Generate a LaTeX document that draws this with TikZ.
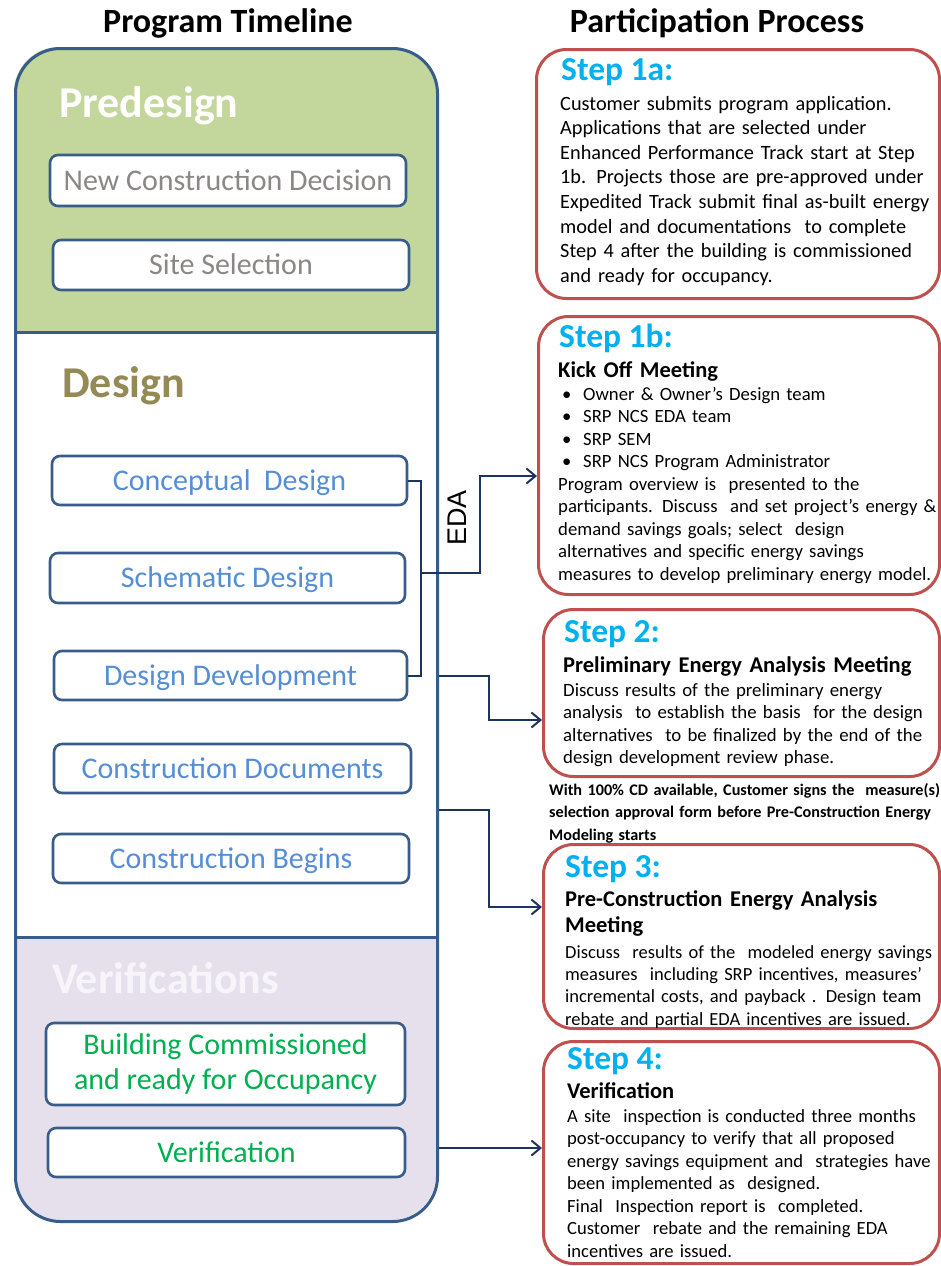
\documentclass[tikz,border=0pt]{standalone}
\usepackage{fontspec}
\setmainfont{Carlito}
\newfontfamily\edafont{Liberation Sans}
\usetikzlibrary{arrows.meta}
\newcommand{\myfs}[2]{\fontsize{#1}{#2}\selectfont}
\definecolor{navy}{RGB}{56,93,138}
\definecolor{arrowc}{RGB}{28,52,96}
\definecolor{pregreen}{RGB}{195,214,155}
\definecolor{lav}{RGB}{229,224,236}
\definecolor{desgold}{RGB}{148,138,84}
\definecolor{predtext}{RGB}{140,134,134}
\definecolor{desblue}{RGB}{85,142,213}
\definecolor{vergreen}{RGB}{0,176,80}
\definecolor{stepred}{RGB}{192,80,77}
\definecolor{stepblue}{RGB}{0,176,240}
\definecolor{verwhite}{RGB}{247,245,250}
\tikzset{
  tbox/.style={draw=navy, line width=2.6pt, rounded corners=8pt, fill=white, inner sep=0pt,
    font=\myfs{30}{35}, text height=22pt, text depth=2.7pt, align=center},
  stepbox/.style={draw=stepred, line width=3pt, rounded corners=30pt, inner sep=0pt, anchor=north west},
  head/.style={anchor=base west, inner sep=0pt, font=\bfseries\myfs{33.5}{33.5}, text=stepblue},
  subhead/.style={anchor=base west, inner sep=0pt, font=\bfseries\myfs{22.5}{26}, text width=520pt, align=left},
  txt/.style={anchor=base west, inner sep=0pt, text width=520pt, align=left,
    execute at begin node={\hyphenpenalty=10000\exhyphenpenalty=10000}},
  phase/.style={anchor=base west, inner sep=0pt, font=\bfseries\myfs{44}{44}},
  conn/.style={draw=arrowc, line width=2pt},
  arr/.style={conn, -{Straight Barb[length=9pt,width=15pt,line width=2pt]}},
}
\begin{document}
\begin{tikzpicture}[x=1pt,y=-1pt]
\fill[white] (0,0) rectangle (940,1266);
\useasboundingbox (0,0) rectangle (940,1266);

% titles
\node[anchor=base, inner sep=0pt, font=\bfseries\myfs{34}{34}] (ttl1) at (228,32) {Program Timeline};
\node[anchor=base, inner sep=0pt, font=\bfseries\myfs{34}{34}] (ttl2) at (717,32) {Participation Process};

% timeline fills
\begin{scope}
  \clip[rounded corners=45pt] (14,47) rectangle (436,1220);
  \fill[pregreen] (14,47) rectangle (436,332);
  \fill[lav] (14,937) rectangle (436,1220);
\end{scope}
\node[draw=navy, line width=3pt, rounded corners=45pt, minimum width=422pt, minimum height=1173pt,
  inner sep=0pt, anchor=north west] (timeline) at (14,47) {};
\draw[navy, line width=3pt] (14,332) -- (436,332);
\draw[navy, line width=3pt] (14,937) -- (436,937);

% phase titles
\node[phase, text=white] (predesign) at (59,117) {Predesign};
\node[phase, text=desgold] (design) at (62,397) {Design};
\node[phase, text=verwhite] (verifs) at (52,993) {Verifications};

% timeline boxes
\node[tbox, text=predtext, minimum width=356pt, minimum height=51pt] (ncd) at (228,180.5) {New Construction Decision};
\node[tbox, text=predtext, minimum width=356pt, minimum height=50pt] (site) at (231,265) {Site Selection};
\node[tbox, text=desblue, minimum width=355pt, minimum height=49pt] (concept) at (229.5,480.5) {Conceptual\ \ Design};
\node[tbox, text=desblue, minimum width=355pt, minimum height=50pt] (schem) at (227.5,578) {Schematic Design};
\node[tbox, text=desblue, minimum width=353pt, minimum height=49pt] (dd) at (230.5,675.5) {Design Development};
\node[tbox, text=desblue, minimum width=357pt, minimum height=49pt] (cdoc) at (232.5,768.5) {Construction Documents};
\node[tbox, text=desblue, minimum width=356pt, minimum height=49pt] (cbeg) at (231,858.5) {Construction Begins};
\node[tbox, text=vergreen, minimum width=359pt, minimum height=82pt, text height=, text depth=] (bcomm) at (225.5,1064) {Building Commissioned\\ and ready for Occupancy};
\node[tbox, text=vergreen, minimum width=357pt, minimum height=49pt] (verif) at (226.5,1152.5) {Verification};

% step boxes
\node[stepbox, minimum width=403pt, minimum height=249pt] (s1a) at (535,48) {};
\node[stepbox, minimum width=401pt, minimum height=278pt] (s1b) at (537,315) {};
\node[stepbox, minimum width=396pt, minimum height=167pt] (s2) at (542,608) {};
\node[stepbox, minimum width=396pt, minimum height=184pt] (s3) at (542,843) {};
\node[stepbox, minimum width=396pt, minimum height=222pt] (s4) at (542,1040) {};

% step 1a
\node[head] (h1a) at (561,80) {Step 1a:};
\node[txt, font=\myfs{20.3}{24.6}] (t1a) at (560,110) {Customer submits program application.\\
Applications that are selected under\\
Enhanced Performance Track start at Step\\
1b. Projects those are pre-approved under\\
Expedited Track submit final as-built energy\\
model and documentations\ \ to complete\\
Step 4 after the building is commissioned\\
and ready for occupancy.};

% step 1b
\node[head] (h1b) at (559,347) {Step 1b:};
\node[subhead] (k1b) at (558,377) {Kick Off Meeting};
\node[txt, font=\myfs{18.7}{22.5}] (t1b) at (558,400) {\hspace*{4pt}\makebox[21pt][l]{•}Owner \& Owner’s Design team\\
\hspace*{4pt}\makebox[21pt][l]{•}SRP NCS EDA team\\
\hspace*{4pt}\makebox[21pt][l]{•}SRP SEM\\
\hspace*{4pt}\makebox[21pt][l]{•}SRP NCS Program Administrator\\
Program overview is\ \ presented to the\\
participants. Discuss\ \ and set project’s energy \&\\
demand savings goals; select\ \ design\\
alternatives and specific energy savings\\
measures to develop preliminary energy model.};

% step 2
\node[head] (h2) at (564,642) {Step 2:};
\node[subhead] (k2) at (563,672) {Preliminary Energy Analysis Meeting};
\node[txt, font=\myfs{18.8}{22.5}] (t2) at (563,696) {Discuss results of the preliminary energy\\
analysis\ \ to establish the basis\ \ for the design\\
alternatives\ \ to be finalized by the end of the\\
design development review phase.};

% note
\node[txt, font=\bfseries\myfs{16.2}{22.5}] (note) at (549,795) {With 100\% CD available, Customer signs the\ \ measure(s)\\
selection approval form before Pre-Construction Energy\\
Modeling starts};

% step 3
\node[head] (h3) at (565,877) {Step 3:};
\node[subhead] (k3t) at (565,906) {Pre-Construction Energy Analysis\\ Meeting};
\node[txt, font=\myfs{18.5}{22.4}] (t3) at (565,958) {Discuss\ \ results of the\ \ modeled energy savings\\
measures\ \ including SRP incentives, measures’\\
incremental costs, and payback . Design team\\
rebate and partial EDA incentives are issued.};

% step 4
\node[head] (h4) at (567,1069) {Step 4:};
\node[subhead] (k4t) at (567,1098) {Verification};
\node[txt, font=\myfs{18.6}{22.5}] (t4) at (567,1122) {A site\ \ inspection is conducted three months\\
post-occupancy to verify that all proposed\\
energy savings equipment and\ \ strategies have\\
been implemented as\ \ designed.\\
Final\ \ Inspection report is\ \ completed.\\
Customer\ \ rebate and the remaining EDA\\
incentives are issued.};

% connectors
\coordinate (brk) at (421,573);
\coordinate (edaup) at (480,476);
\draw[conn] (concept.east) -| (brk) |- (dd.east);
\draw[arr] (brk) -| (edaup) -- (s1b.west |- edaup);
\node[rotate=90, inner sep=0pt, font=\edafont\myfs{27}{27}] (eda) at (457,518) {EDA};

\coordinate (a2) at (489,720);
\draw[arr] (timeline.east |- dd.east) -| (a2) -- (s2.west |- a2);

\coordinate (k3) at (489,810);
\coordinate (e3) at (489,907);
\draw[arr] (timeline.east |- k3) -- (k3) -- (e3) -- (s3.west |- e3);

\coordinate (k4) at (489,1148);
\draw[arr] (timeline.east |- k4) -- (s4.west |- k4);
\end{tikzpicture}
\end{document}
